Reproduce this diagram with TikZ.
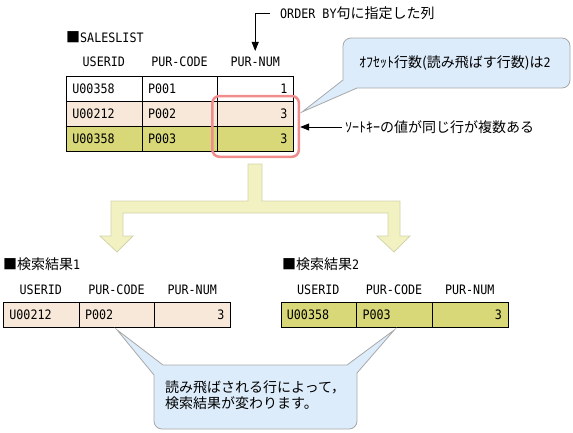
\documentclass[tikz,border=0pt]{standalone}
\usepackage{fontspec}
\setmainfont{Noto Sans CJK JP}
\newfontfamily\monofont[FakeStretch=0.9]{DejaVu Sans Mono}
\usepackage{tikz}
\usetikzlibrary{arrows.meta, positioning, fit}
\definecolor{rowpeach}{RGB}{248, 232, 218}
\definecolor{rowolive}{RGB}{216, 216, 120}
\definecolor{markred}{RGB}{240, 140, 140}
\definecolor{tipblue}{RGB}{221, 236, 251}
\definecolor{tipgray}{RGB}{168, 168, 168}
\definecolor{forkfill}{RGB}{241, 241, 193}
\definecolor{forkline}{RGB}{212, 212, 172}

\tikzset{
  cell/.style={draw, line width=0.8pt, anchor=north west, minimum height=25pt,
    text width=63.7pt, inner xsep=6pt, inner ysep=0pt, align=left,
    font=\monofont\fontsize{13}{15}\selectfont},
  numcell/.style={cell, align=right},
  head/.style={inner sep=0pt, font=\monofont\fontsize{13}{15}\selectfont},
  jtext/.style={inner sep=0pt, font=\fontsize{14}{16}\selectfont},
  balloon/.style={fill=tipblue, draw=tipgray, line width=0.8pt},
  pointer/.style={-{Triangle[length=9pt, width=7pt]}, line width=0.8pt},
}

\begin{document}
\begin{tikzpicture}[x=1pt, y=-1pt]
  \useasboundingbox (0,0) rectangle (573,432);

  % SALESLIST
  \node[jtext, anchor=west] (title) at (66,37) {■{\monofont\fontsize{13}{15}\selectfont SALESLIST}};
  \node[head] (h1) at (103.8,62) {USERID};
  \node[head] (h2) at (179.5,62) {PUR-CODE};
  \node[head] (h3) at (255.2,62) {PUR-NUM};
  \node[cell] (a1) at (66,76) {U00358};
  \node[cell] (a2) at (141.7,76) {P001};
  \node[numcell] (a3) at (217.4,76) {1};
  \node[cell, fill=rowpeach] (b1) at (66,101) {U00212};
  \node[cell, fill=rowpeach] (b2) at (141.7,101) {P002};
  \node[numcell, fill=rowpeach] (b3) at (217.4,101) {3};
  \node[cell, fill=rowolive] (c1) at (66,126) {U00358};
  \node[cell, fill=rowolive] (c2) at (141.7,126) {P003};
  \node[numcell, fill=rowolive] (c3) at (217.4,126) {3};
  \node[fit=(b3)(c3), draw=markred, line width=2.5pt, rounded corners=7pt,
    inner xsep=5pt, inner ysep=5pt] (dup) {};

  % ORDER BY column
  \node[jtext, anchor=west] (orderby) at (280,13) {{\monofont\fontsize{13}{15}\selectfont ORDER BY}句に指定した列};
  \draw[pointer] ([xshift=-10pt]orderby.west) -| ([yshift=6pt]h3.north);

  % offset balloon
  \draw[balloon] (302,112) -- (357,88) [rounded corners=8pt] -- (570,88) -- (570,38)
    -- (343,38) [sharp corners] -- (343,80) -- cycle;
  \node[jtext] (offset) at (455,63) {ｵﾌｾｯﾄ行数(読み飛ばす行数)は{\monofont\fontsize{13}{15}\selectfont 2}};

  % same sort key
  \node[jtext, anchor=west] (sortkey) at (345,127) {ｿｰﾄｷｰの値が同じ行が複数ある};
  \draw[pointer] ([xshift=-3pt]sortkey.west) -- (sortkey.west -| dup.east);

  % fork arrow
  \draw[fill=forkfill, draw=forkline, line width=0.8pt]
    (248,164) -- (262,164) -- (262,201) -- (400,201) -- (400,236) -- (410,236)
    -- (394,252) -- (377,236) -- (388,236) -- (388,213) -- (123,213) -- (123,236)
    -- (133,236) -- (117,252) -- (100,236) -- (111,236) -- (111,201) -- (248,201) -- cycle;

  % result 1
  \node[jtext, anchor=west] (res1) at (3,264) {■検索結果{\monofont\fontsize{13}{15}\selectfont 1}};
  \node[head] (k1) at (40.8,290) {USERID};
  \node[head] (k2) at (116.5,290) {PUR-CODE};
  \node[head] (k3) at (192.2,290) {PUR-NUM};
  \node[cell, fill=rowpeach] (l1) at (3,302) {U00212};
  \node[cell, fill=rowpeach] (l2) at (78.7,302) {P002};
  \node[numcell, fill=rowpeach] (l3) at (154.4,302) {3};

  % result 2
  \node[jtext, anchor=west] (res2) at (282,264) {■検索結果{\monofont\fontsize{13}{15}\selectfont 2}};
  \node[head] (m1) at (318.3,290) {USERID};
  \node[head] (m2) at (394,290) {PUR-CODE};
  \node[head] (m3) at (469.7,290) {PUR-NUM};
  \node[cell, fill=rowolive] (r1) at (280.5,302) {U00358};
  \node[cell, fill=rowolive] (r2) at (356.2,302) {P003};
  \node[numcell, fill=rowolive] (r3) at (431.9,302) {3};

  % note balloon
  \draw[balloon] ([yshift=-2pt]l2.south) -- (163,365) -- (347,365) -- ([yshift=-2pt]r2.south)
    -- (357,373) [rounded corners=8pt] -- (357,429) -- (154,429) [sharp corners] -- (154,375) -- cycle;
  \node[jtext, anchor=west, align=left] (note) at (165,395) {読み飛ばされる行によって，\\検索結果が変わります。};
\end{tikzpicture}
\end{document}
